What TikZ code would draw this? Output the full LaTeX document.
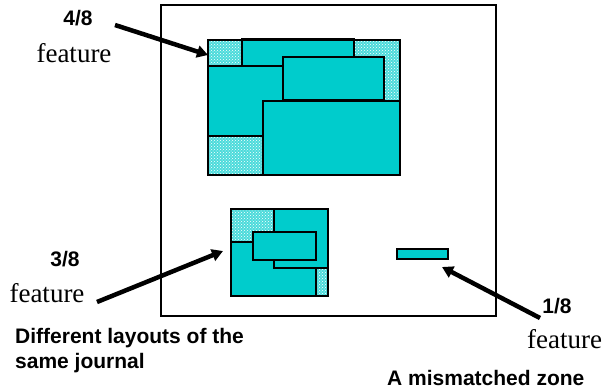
\documentclass[tikz,border=0pt]{standalone}
\usepackage{fontspec}
\setmainfont{Liberation Serif}
\setsansfont{Liberation Sans}
\usetikzlibrary{arrows.meta,patterns}
\definecolor{cyanfill}{RGB}{0,204,204}
\tikzset{
  frame/.style={draw=black,line width=2pt},
  zone/.style={draw=black,line width=2.6pt,fill=cyanfill},
  texture/.style={fill=cyanfill!70,postaction={pattern=crosshatch dots,pattern color=white}},
  bigarrow/.style={line width=4.5pt,-{Triangle[length=11pt,width=12pt]}},
  lbl/.style={inner sep=0pt,font=\sffamily\bfseries\fontsize{21}{25}\selectfont},
  feat/.style={inner sep=0pt,font=\rmfamily\fontsize{27}{31}\selectfont},
}
\begin{document}
\begin{tikzpicture}[x=1pt,y=-1pt]
\useasboundingbox (0,0) rectangle (602,391);
% outer frame
\draw[frame] (161,5) rectangle (496,316);

% ---- big group
\fill[texture] (208,40) rectangle (400,175);
\draw[zone] (242,39) rectangle (354,66);
\draw[zone] (208,66) rectangle (283,136);
\draw[zone] (283,57) rectangle (384,100);
\draw[zone] (263,101) rectangle (400,175);
\draw[line width=2.6pt] (208,40) rectangle (400,175);

% ---- middle group
\fill[texture] (231,209) rectangle (328,296);
\draw[zone] (231,242) rectangle (316,296);
\draw[zone] (274,209) rectangle (328,268);
\draw[zone] (253,232) rectangle (316,260);
\draw[line width=2.6pt] (231,209) rectangle (328,296);

% ---- small zone
\draw[zone,line width=2pt] (397,249) rectangle (448,259);

% ---- labels
\node[lbl,anchor=base] (l4) at (78,25) {4/8};
\node[feat,anchor=base] (f4) at (74,62) {feature};
\node[lbl,anchor=base] (l3) at (65,266) {3/8};
\node[feat,anchor=base] (f3) at (47,302) {feature};
\node[lbl,anchor=base] (l1) at (557,313) {1/8};
\node[feat,anchor=base west] (f1) at (527,348) {feature};
\node[lbl,anchor=base west] (t1) at (15,343) {Different layouts of the};
\node[lbl,anchor=base west] (t2) at (15,368) {same journal};
\node[lbl,anchor=base west] (t3) at (387,385) {A mismatched zone};

% ---- arrows
\coordinate (a4s) at (115,25);
\coordinate (a4e) at (208,55);
\coordinate (a3s) at (97,302);
\coordinate (a3e) at (223,251);
\coordinate (a1s) at (540,318);
\coordinate (a1e) at (442,267);
\draw[bigarrow] (a4s) -- (a4e);
\draw[bigarrow] (a3s) -- (a3e);
\draw[bigarrow] (a1s) -- (a1e);
\end{tikzpicture}
\end{document}
